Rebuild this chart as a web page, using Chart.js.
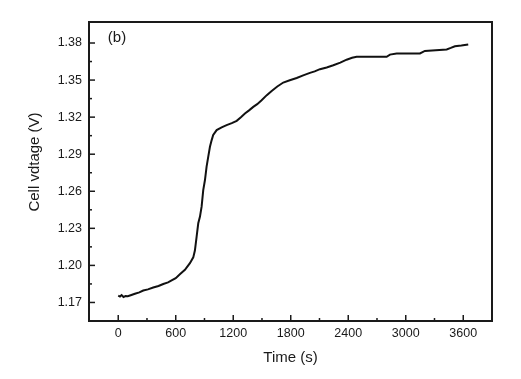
<!DOCTYPE html>
<html>
<head>
<meta charset="utf-8">
<script src="https://cdn.jsdelivr.net/npm/chart.js@4.4.1/dist/chart.umd.min.js"></script>
<style>
  html, body { margin: 0; padding: 0; background: #fff; }
  #wrap { width: 521px; height: 379px; }
</style>
</head>
<body>
<div id="wrap"><canvas id="c" width="521" height="379"></canvas></div>
<script>
// ---- data ----
const timeSec = [0, 18, 35, 55, 75, 100, 130, 174, 220, 261, 310, 365, 420, 470, 520, 557, 600, 646, 696, 748,
  783, 800, 818, 835, 853, 870, 887, 905, 922, 939, 957, 975, 991, 1027, 1079, 1131, 1185, 1236, 1280, 1322,
  1365, 1409, 1450, 1496, 1550, 1601, 1660, 1722, 1790, 1862, 1930, 2000, 2050, 2105, 2175, 2244, 2317, 2383,
  2440, 2488, 2801, 2835, 2905, 3148, 3200, 3427, 3470, 3513, 3580, 3652];
const cellVoltage = [1.1755, 1.1748, 1.1760, 1.1744, 1.1752, 1.1750, 1.1758, 1.1770, 1.1782, 1.1797, 1.1806,
  1.1821, 1.1833, 1.1849, 1.1862, 1.1878, 1.1897, 1.1930, 1.1964, 1.2018, 1.2065, 1.2120, 1.2233, 1.2341,
  1.2395, 1.2475, 1.2610, 1.2691, 1.2799, 1.2879, 1.2960, 1.3014, 1.3055, 1.3095, 1.3117, 1.3135, 1.3152,
  1.3170, 1.3200, 1.3230, 1.3255, 1.3283, 1.3305, 1.3337, 1.3378, 1.3412, 1.3448, 1.3480, 1.3498, 1.3517,
  1.3538, 1.3558, 1.3570, 1.3588, 1.3602, 1.3620, 1.3641, 1.3665, 1.3680, 1.3689, 1.3689, 1.3706, 1.3715,
  1.3715, 1.3736, 1.3747, 1.3760, 1.3774, 1.3780, 1.3788];
const xTicks = [0, 600, 1200, 1800, 2400, 3000, 3600];
const xMinorTicks = [300, 900, 1500, 2100, 2700, 3300];
const yTicks = [1.17, 1.20, 1.23, 1.26, 1.29, 1.32, 1.35, 1.38];
const yMinorTicks = [1.185, 1.215, 1.245, 1.275, 1.305, 1.335, 1.365];
const xTitle = 'Time (s)';
const yTitle = 'Cell vdtage (V)';
const panelLabel = '(b)';

const points = timeSec.map((t, i) => ({ x: t, y: cellVoltage[i] }));
const FONT = '"Liberation Sans", Arial, sans-serif';
const INK = '#1a1a1a';

const framePlugin = {
  id: 'framePlugin',
  afterDraw(chart) {
    const { ctx, chartArea: a, scales: { x, y } } = chart;
    ctx.save();
    ctx.strokeStyle = INK;
    ctx.lineCap = 'butt';
    // ticks (inside)
    ctx.lineWidth = 1.5;
    const seg = (x1, y1, x2, y2) => { ctx.beginPath(); ctx.moveTo(x1, y1); ctx.lineTo(x2, y2); ctx.stroke(); };
    xTicks.forEach(v => { const p = x.getPixelForValue(v); seg(p, a.bottom, p, a.bottom - 6); });
    xMinorTicks.forEach(v => { const p = x.getPixelForValue(v); seg(p, a.bottom, p, a.bottom - 3); });
    yTicks.forEach(v => { const p = y.getPixelForValue(v); seg(a.left, p, a.left + 6, p); });
    yMinorTicks.forEach(v => { const p = y.getPixelForValue(v); seg(a.left, p, a.left + 3, p); });
    // frame
    ctx.lineWidth = 2;
    ctx.strokeRect(a.left, a.top, a.right - a.left, a.bottom - a.top);
    // texts
    ctx.fillStyle = INK;
    ctx.font = '15px ' + FONT;
    ctx.textAlign = 'center';
    ctx.textBaseline = 'middle';
    ctx.fillText(panelLabel, a.left + 28, a.top + 16);
    ctx.fillText(xTitle, (a.left + a.right) / 2, 358);
    ctx.translate(35, 162);
    ctx.rotate(-Math.PI / 2);
    ctx.fillText(yTitle, 0, 0);
    ctx.restore();
  }
};

new Chart(document.getElementById('c'), {
  type: 'line',
  data: {
    datasets: [{
      data: points,
      borderColor: '#111',
      borderWidth: 2,
      pointRadius: 0,
      tension: 0,
      fill: false
    }]
  },
  options: {
    responsive: false,
    animation: false,
    devicePixelRatio: 1,
    layout: { padding: { left: 0, top: 22, right: 29, bottom: 0 } },
    plugins: { legend: { display: false }, tooltip: { enabled: false } },
    scales: {
      x: {
        type: 'linear',
        min: -305,
        max: 3900,
        afterFit(s) { s.height = 58; },
        afterBuildTicks(s) { s.ticks = xTicks.map(v => ({ value: v })); },
        grid: { display: false, drawTicks: false, tickLength: 0 },
        border: { display: false },
        ticks: { color: INK, padding: 5, maxRotation: 0, font: { family: FONT, size: 12.5 },
                 callback: v => String(v) }
      },
      y: {
        type: 'linear',
        min: 1.155,
        max: 1.397,
        afterFit(s) { s.width = 89; },
        afterBuildTicks(s) { s.ticks = yTicks.map(v => ({ value: v })); },
        grid: { display: false, drawTicks: false, tickLength: 0 },
        border: { display: false },
        ticks: { color: INK, padding: 7, font: { family: FONT, size: 12.5 },
                 callback: v => Number(v).toFixed(2) }
      }
    }
  },
  plugins: [framePlugin]
});
</script>
</body>
</html>
